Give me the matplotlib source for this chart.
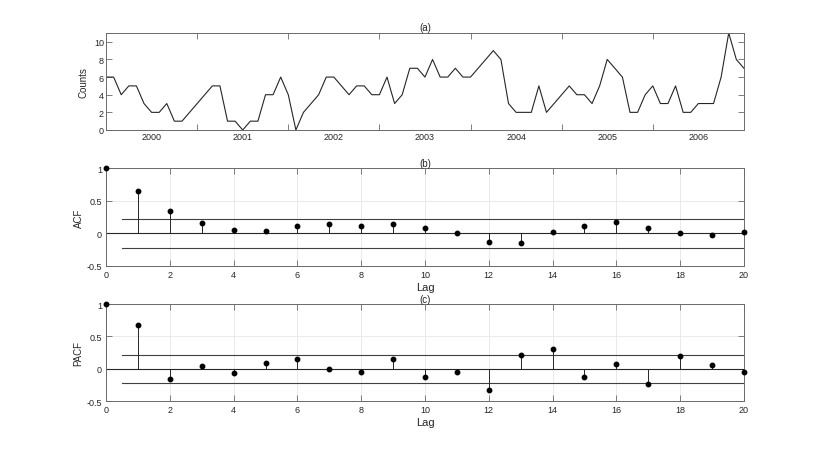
import numpy as np
import matplotlib
matplotlib.use('Agg')
import matplotlib.pyplot as plt

# monthly counts, Jan 2000 onwards
counts = [6, 6, 4, 5, 5, 3, 2, 2, 3, 1, 1, 2, 3, 4, 5, 5, 1, 1, 0, 1, 1, 4, 4, 6,
          4, 0, 2, 3, 4, 6, 6, 5, 4, 5, 5, 4, 4, 6, 3, 4, 7, 7, 6, 8, 6, 6, 7, 6,
          6, 7, 8, 9, 8, 3, 2, 2, 2, 5, 2, 3, 4, 5, 4, 4, 3, 5, 8, 7, 6, 2, 2, 4,
          5, 3, 3, 5, 2, 2, 3, 3, 3, 6, 11, 8, 7]
years = ['2000', '2001', '2002', '2003', '2004', '2005', '2006']

lags = np.arange(21)
acf = [1.0, 0.655, 0.338, 0.153, 0.046, 0.036, 0.113, 0.148, 0.107, 0.138, 0.082,
       0.010, -0.138, -0.143, 0.026, 0.118, 0.174, 0.087, 0.005, -0.026, 0.020]
pacf = [1.0, 0.675, -0.164, 0.041, -0.072, 0.082, 0.153, -0.005, -0.051, 0.153, -0.123,
        -0.046, -0.327, 0.215, 0.307, -0.128, 0.072, -0.235, 0.194, 0.051, -0.046]
bound = 2 / np.sqrt(len(counts))

dark = '#262626'
spine = '#6a6a6a'
plt.rcParams['font.family'] = 'Liberation Sans'
plt.rcParams['font.size'] = 6.5

fig = plt.figure(figsize=(8.22, 4.52), dpi=100)

def style(ax, pad):
    for s in ax.spines.values():
        s.set_color(spine)
        s.set_linewidth(0.7)
    ax.tick_params(which='both', direction='in', top=True, right=True,
                   length=4.5, width=0.6, color=spine, labelcolor=dark,
                   labelsize=6.5, pad=pad)

# (a) time series
ax1 = fig.add_axes([0.129, 0.7102, 0.776, 0.2146])
months = np.arange(len(counts))
ax1.plot(months, counts, color=dark, lw=0.8)
ax1.set_xlim(0, len(counts) - 1)
ax1.set_ylim(0, 11)
ax1.set_yticks(range(0, 11, 2))
ax1.set_xticks(range(12, 84, 12))
ax1.set_xticklabels([])
ax1.set_xticks([6 + 12 * i for i in range(len(years))], minor=True)
ax1.set_xticklabels(years, minor=True)
style(ax1, 1.5)
ax1.tick_params(which='minor', length=0, top=False)
ax1.set_ylabel('Counts', color=dark, fontsize=7, labelpad=4)
ax1.set_title('(a)', color=dark, fontsize=7, pad=2)

def corr_panel(rect, vals, name, title):
    ax = fig.add_axes(rect)
    ax.grid(True, color='#e6e6e6', lw=0.6)
    ax.set_axisbelow(True)
    ax.axhline(0, color=dark, lw=0.8)
    ax.plot([0.5, 20], [bound, bound], color='#404040', lw=0.8)
    ax.plot([0.5, 20], [-bound, -bound], color='#404040', lw=0.8)
    ax.vlines(lags, 0, vals, color=dark, lw=0.7)
    ax.plot(lags, vals, 'o', color='black', ms=3.2, clip_on=False, zorder=5)
    ax.set_xlim(0, 20)
    ax.set_ylim(-0.5, 1)
    ax.set_xticks(range(0, 21, 2))
    ax.set_yticks([-0.5, 0, 0.5, 1])
    ax.set_yticklabels(['-0.5', '0', '0.5', '1'])
    style(ax, 3)
    ax.set_ylabel(name, color=dark, fontsize=7, labelpad=2)
    ax.set_xlabel('Lag', color=dark, fontsize=8, labelpad=2)
    ax.set_title(title, color=dark, fontsize=7, pad=1)
    return ax

ax2 = corr_panel([0.129, 0.4093, 0.776, 0.2168], acf, 'ACF', '(b)')
ax3 = corr_panel([0.129, 0.1106, 0.776, 0.2146], pacf, 'PACF', '(c)')

fig.savefig('out.png', dpi=100)
